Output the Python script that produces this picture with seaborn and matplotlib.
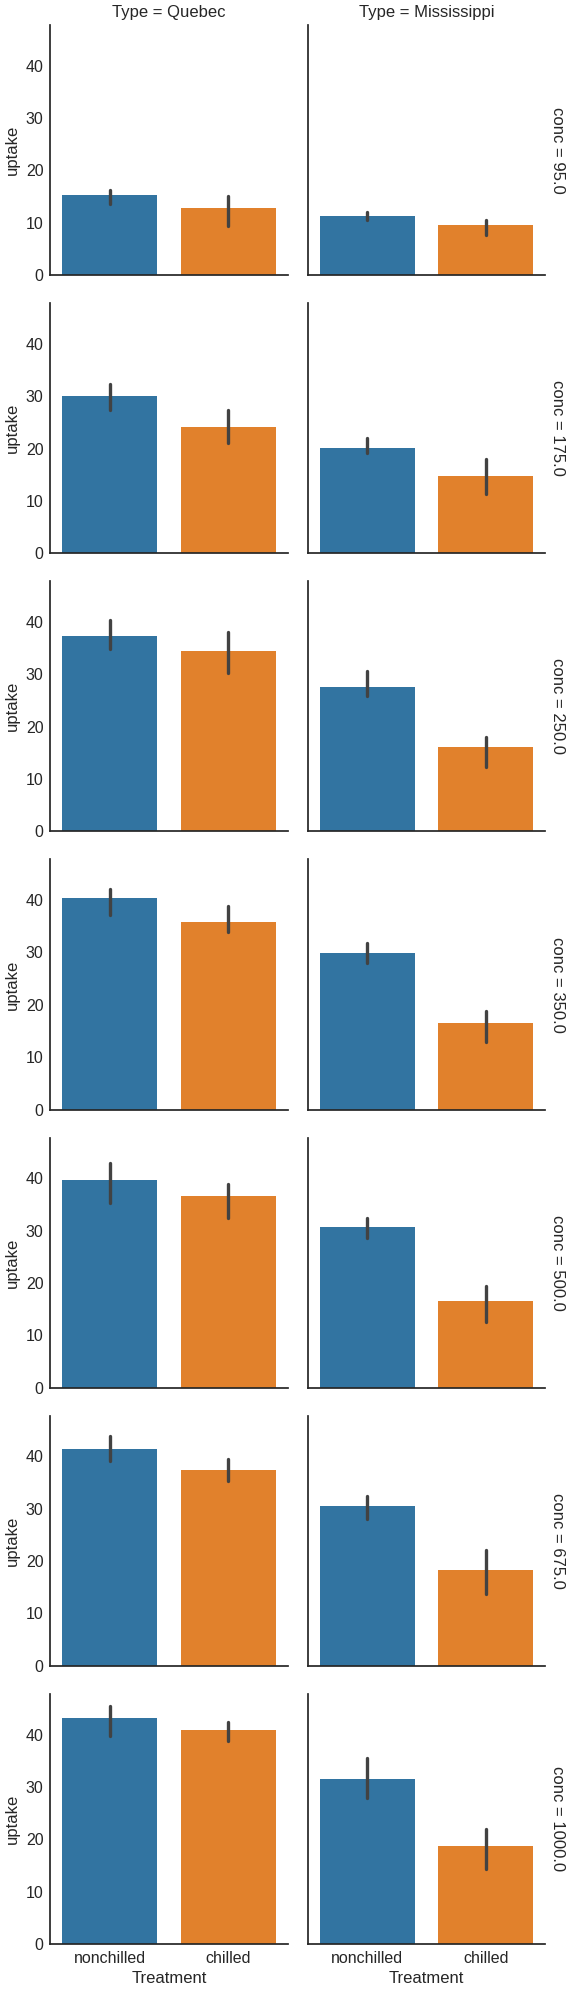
import pandas as pd
import seaborn as sns
import matplotlib.pyplot as plt

# CO2 uptake observations, one list per plant, in the order of conc levels
conc_levels = [95.0, 175.0, 250.0, 350.0, 500.0, 675.0, 1000.0]

qn1 = [16.0, 30.4, 34.8, 37.2, 35.3, 39.2, 39.7]
qn2 = [13.6, 27.3, 37.1, 41.8, 40.6, 41.4, 44.3]
qn3 = [16.2, 32.4, 40.3, 42.1, 42.9, 43.9, 45.5]
qc1 = [14.2, 24.1, 30.3, 34.6, 32.5, 35.4, 38.7]
qc2 = [9.3, 27.3, 35.0, 38.8, 38.6, 37.5, 42.4]
qc3 = [15.1, 21.0, 38.1, 34.0, 38.9, 39.6, 41.4]
mn1 = [10.6, 19.2, 26.2, 30.0, 30.9, 32.4, 35.5]
mn2 = [12.0, 22.0, 30.6, 31.8, 32.4, 31.1, 31.5]
mn3 = [11.3, 19.4, 25.8, 27.9, 28.5, 28.1, 27.8]
mc1 = [10.5, 14.9, 18.1, 18.9, 19.5, 22.2, 21.9]
mc2 = [7.7, 11.4, 12.3, 13.0, 12.5, 13.7, 14.4]
mc3 = [10.6, 18.0, 17.9, 17.9, 17.9, 18.9, 19.9]

plants = [
    ("Quebec", "nonchilled", qn1), ("Quebec", "nonchilled", qn2), ("Quebec", "nonchilled", qn3),
    ("Quebec", "chilled", qc1), ("Quebec", "chilled", qc2), ("Quebec", "chilled", qc3),
    ("Mississippi", "nonchilled", mn1), ("Mississippi", "nonchilled", mn2), ("Mississippi", "nonchilled", mn3),
    ("Mississippi", "chilled", mc1), ("Mississippi", "chilled", mc2), ("Mississippi", "chilled", mc3),
]

rows = []
for typ, treat, vals in plants:
    for c, v in zip(conc_levels, vals):
        rows.append({"Type": typ, "Treatment": treat, "conc": c, "uptake": v})
df = pd.DataFrame(rows)

sns.set_theme(style="white")
plt.rcParams["font.family"] = ["Liberation Sans", "DejaVu Sans"]
plt.rcParams.update({
    "xtick.labelsize": 11.5,
    "ytick.labelsize": 11.5,
    "axes.labelsize": 12,
    "axes.titlesize": 14,
    "xtick.major.size": 0,
    "ytick.major.size": 0,
    "xtick.major.pad": 5,
    "ytick.major.pad": 5,
    "axes.labelpad": 4,
})

g = sns.catplot(
    data=df, x="Treatment", y="uptake", hue="Treatment",
    col="Type", row="conc", kind="bar",
    order=["nonchilled", "chilled"], col_order=["Quebec", "Mississippi"],
    palette=["#1f77b4", "#ff7f0e"], legend=False, margin_titles=True,
    height=2.84, aspect=1.0, seed=0, linewidth=0,
    err_kws={"linewidth": 2.4, "color": ".26"},
)

g.figure.set_size_inches(5.71, 19.91)
g.figure.subplots_adjust(left=0.0884, right=0.9545, top=0.98744, bottom=0.02361,
                         wspace=0.084, hspace=0.112)

plt.savefig("out.png", dpi=100)
